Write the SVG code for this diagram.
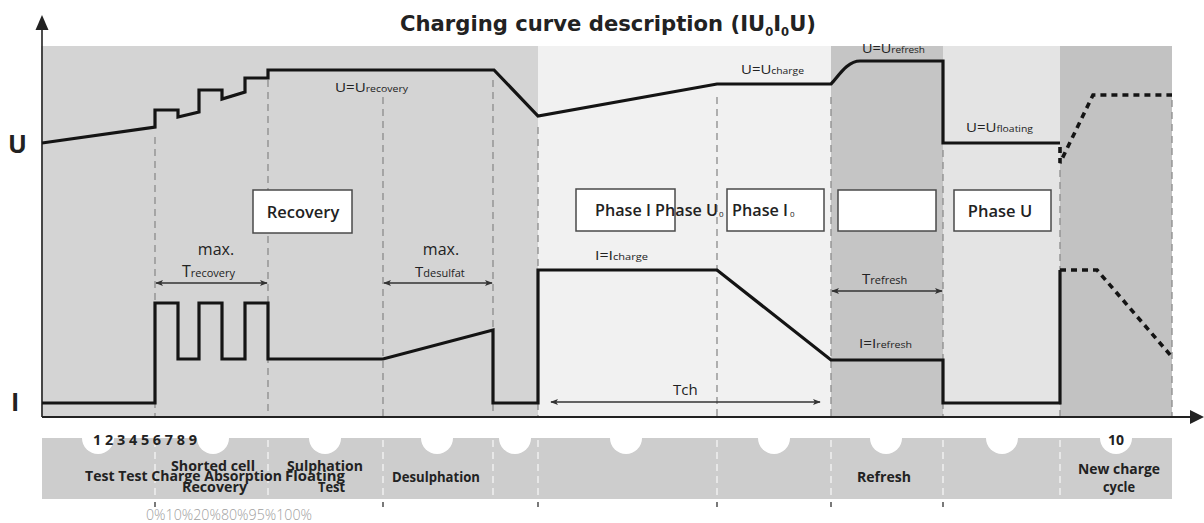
<svg xmlns="http://www.w3.org/2000/svg" width="1204" height="523" viewBox="0 0 1204 523">
<defs>
<style>
.t{font-family:"Open Sans","Noto Sans","Liberation Sans",sans-serif;fill:#222}
.b{font-weight:700}
.sb{font-weight:600}
.lab{font-size:13px}
.sub{font-size:9px}
.dash{stroke:#8c8c8c;stroke-width:1.3;stroke-dasharray:7 5;fill:none}
.wdash{stroke:#f4f4f4;stroke-width:1.3;stroke-dasharray:7 5;fill:none}
.box{fill:#fff;stroke:#4a4a4a;stroke-width:1.5}
.curve{fill:none;stroke:#141414;stroke-width:3.2;stroke-linejoin:miter}
.dot{fill:none;stroke:#141414;stroke-width:3.6;stroke-dasharray:6 5}
.arr{stroke:#333;stroke-width:1.5;fill:none;marker-start:url(#ah);marker-end:url(#ah)}
.band{font-size:15px}
</style>
<marker id="ah" viewBox="0 0 10 10" refX="9" refY="5" markerWidth="8" markerHeight="8" orient="auto-start-reverse" markerUnits="userSpaceOnUse">
<path d="M0,1 L10,5 L0,9 L2.5,5 Z" fill="#333"/>
</marker>
</defs>
<rect width="1204" height="523" fill="#fff"/>

<g id="title">
<text class="t b" x="400" y="31" font-size="22" textLength="416" lengthAdjust="spacingAndGlyphs" style="font-family:'DejaVu Sans',sans-serif">Charging curve description (IU<tspan font-size="12" dy="5">0</tspan><tspan dy="-5">I</tspan><tspan font-size="12" dy="5">0</tspan><tspan dy="-5">U)</tspan></text>
</g>

<g id="background">
<rect x="41" y="46" width="497" height="371" fill="#d4d4d4"/>
<rect x="538" y="46" width="293" height="371" fill="#f1f1f1"/>
<rect x="831" y="46" width="112" height="371" fill="#c5c5c5"/>
<rect x="943" y="46" width="117" height="371" fill="#e4e4e4"/>
<rect x="1060" y="46" width="112" height="371" fill="#c2c2c2"/>
</g>

<g id="guides">
<path class="dash" d="M155,137V417 M268,80V417 M383,97V417 M493,80V417 M538,127V417 M717,97V417 M831,97V417 M943,150V417 M1060,170V417"/>
<path class="dash" d="M1172,100V417" stroke="#b5b5b5"/>
</g>

<g id="axes">
<line x1="42" y1="417" x2="42" y2="28" stroke="#222" stroke-width="1.6"/>
<polygon points="42,15 35.5,30 48.5,30" fill="#222"/>
<line x1="42" y1="417" x2="1192" y2="417" stroke="#222" stroke-width="1.8"/>
<polygon points="1204,417 1190,410 1190,424" fill="#222"/>
<text class="t b" x="8" y="153" font-size="25">U</text>
<text class="t b" x="11" y="411" font-size="25">I</text>
</g>

<g id="connectors">
<path id="u-curve" class="curve" d="M42,143 L155,127 V110 H178 V117 L199,112 V90 H222 V99 L245,92 V78 H268 V70 H494 L538,116 L717,84 H831 C838,77 847,61 860,61 H943 V143 H1060"/>
<path id="u-dotted" class="dot" d="M1060,147 V163 L1093,95 H1172"/>
<path id="i-curve" class="curve" d="M42,403 H155 V303 H178 V359 H199 V303 H222 V359 H245 V303 H268 V359 H383 L493,330 V403 H538 V270 H717 L831,360 H943 V403 H1060 V270"/>
<path id="i-dotted" class="dot" d="M1060,270 H1097 L1172,357"/>
<line class="arr" x1="156" y1="283" x2="267" y2="283"/>
<line class="arr" x1="384" y1="283" x2="492" y2="283"/>
<line class="arr" x1="832" y1="291" x2="942" y2="291"/>
<line class="arr" x1="551" y1="402" x2="820" y2="402"/>
</g>

<g id="node-recovery">
<rect class="box" x="253" y="190" width="99" height="43"/>
<text class="t sb" x="303" y="218" font-size="16.5" text-anchor="middle">Recovery</text>
</g>
<g id="node-phase-i">
<rect class="box" x="576" y="189" width="99" height="42"/>
<text class="t sb" x="595" y="216" font-size="16.5" textLength="123" lengthAdjust="spacingAndGlyphs">Phase I Phase U</text>
<text class="t" x="719" y="217" font-size="8">0</text>
</g>
<g id="node-phase-i0">
<rect class="box" x="727" y="189" width="97" height="42"/>
<text class="t sb" x="732" y="216" font-size="16.5" textLength="56" lengthAdjust="spacingAndGlyphs">Phase I</text>
<text class="t" x="790" y="217" font-size="8">0</text>
</g>
<g id="node-empty">
<rect class="box" x="838" y="190" width="98" height="41" stroke-width="2" stroke="#333"/>
</g>
<g id="node-phase-u">
<rect class="box" x="954" y="190" width="97" height="41"/>
<text class="t sb" x="1000" y="217" font-size="16.5" text-anchor="middle">Phase U</text>
</g>

<g id="labels">
<text class="t lab" x="335" y="92" textLength="73" lengthAdjust="spacingAndGlyphs">U=U<tspan class="sub">recovery</tspan></text>
<text class="t lab" x="741" y="74" textLength="63" lengthAdjust="spacingAndGlyphs">U=U<tspan class="sub">charge</tspan></text>
<text class="t lab" x="862" y="53" textLength="63" lengthAdjust="spacingAndGlyphs">U=U<tspan class="sub">refresh</tspan></text>
<text class="t lab" x="966" y="132" textLength="67" lengthAdjust="spacingAndGlyphs">U=U<tspan class="sub">floating</tspan></text>
<text class="t lab" x="595" y="260" font-size="14" textLength="53" lengthAdjust="spacingAndGlyphs">I=I<tspan class="sub">charge</tspan></text>
<text class="t lab" x="859" y="348" font-size="14" textLength="53" lengthAdjust="spacingAndGlyphs">I=I<tspan class="sub">refresh</tspan></text>
<text class="t" x="216" y="255" font-size="16" text-anchor="middle">max.</text>
<text class="t" x="182" y="277" font-size="16">T<tspan font-size="11">recovery</tspan></text>
<text class="t" x="441" y="255" font-size="16" text-anchor="middle">max.</text>
<text class="t" x="415" y="277" font-size="15">T<tspan font-size="11">desulfat</tspan></text>
<text class="t" x="862" y="284" font-size="15">T<tspan font-size="11">refresh</tspan></text>
<text class="t" x="673" y="395" font-size="15">Tch</text>
</g>

<g id="phase-band">
<rect x="42" y="438" width="1130" height="61" fill="#cdcdcd"/>
<g fill="#fff">
<circle cx="98" cy="438" r="16"/>
<circle cx="213" cy="438" r="16"/>
<circle cx="325" cy="438" r="16"/>
<circle cx="437" cy="438" r="16"/>
<circle cx="515" cy="438" r="16"/>
<circle cx="626" cy="438" r="16"/>
<circle cx="774" cy="438" r="16"/>
<circle cx="886" cy="438" r="16"/>
<circle cx="1002" cy="438" r="16"/>
<circle cx="1116" cy="438" r="16"/>
</g>
<path class="wdash" d="M155,440V499 M268,440V499 M383,440V499 M493,440V499 M538,440V499 M717,440V499 M831,440V499 M943,440V499 M1060,440V499"/>
<path stroke="#333" stroke-width="1.3" d="M155,502V507 M383,502V507 M538,502V507 M717,502V507 M831,502V507 M943,502V507"/>
<text class="t b" x="93" y="445" font-size="14" textLength="104" lengthAdjust="spacingAndGlyphs">1 2 3 4 5 6 7 8 9</text>
<text class="t b" x="1116" y="445" font-size="14" text-anchor="middle">10</text>
<text class="t b band" x="171" y="471" textLength="84" lengthAdjust="spacingAndGlyphs">Shorted cell</text>
<text class="t b band" x="85" y="481" textLength="197" lengthAdjust="spacingAndGlyphs">Test Test Charge Absorption</text>
<text class="t b band" x="182" y="492" textLength="65" lengthAdjust="spacingAndGlyphs">Recovery</text>
<text class="t b band" x="287" y="471" textLength="76" lengthAdjust="spacingAndGlyphs">Sulphation</text>
<text class="t b band" x="285" y="481" textLength="60" lengthAdjust="spacingAndGlyphs">Floating</text>
<text class="t b band" x="318" y="492" textLength="27" lengthAdjust="spacingAndGlyphs">Test</text>
<text class="t b band" x="392" y="482" textLength="88" lengthAdjust="spacingAndGlyphs">Desulphation</text>
<text class="t b band" x="857" y="482" textLength="54" lengthAdjust="spacingAndGlyphs">Refresh</text>
<text class="t b band" x="1078" y="474" textLength="82" lengthAdjust="spacingAndGlyphs">New charge</text>
<text class="t b band" x="1103" y="492" textLength="32" lengthAdjust="spacingAndGlyphs">cycle</text>
<text class="t" x="146" y="520" font-size="14" font-weight="300" style="fill:#a0a0a0" textLength="166" lengthAdjust="spacingAndGlyphs">0%10%20%80%95%100%</text>
</g>
</svg>
